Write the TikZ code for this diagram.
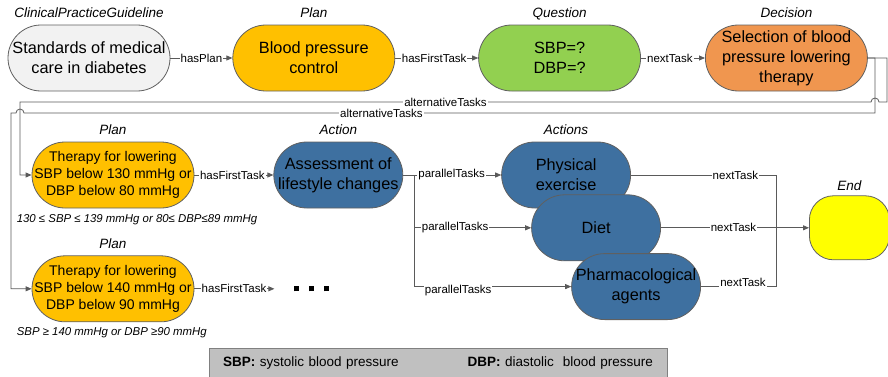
\documentclass[tikz,border=0pt]{standalone}
\usepackage{fontspec}
\setmainfont{Liberation Sans}
\usepackage{tikz}
\usetikzlibrary{positioning}
\usetikzlibrary{arrows.meta}
\definecolor{linegray}{HTML}{5A5A5A}
\definecolor{bordergray}{HTML}{606060}
\definecolor{cpgfill}{HTML}{F2F2F2}
\definecolor{planfill}{HTML}{FFC000}
\definecolor{questfill}{HTML}{92D050}
\definecolor{decfill}{HTML}{F0964F}
\definecolor{actfill}{HTML}{3E70A0}
\definecolor{endfill}{HTML}{FFFF00}
\definecolor{legendfill}{HTML}{C0C0C0}
\tikzset{
  myarrow/.style={
    draw=linegray,
    line width=0.8pt,
    -{Triangle[length=6pt,width=5pt]},
  },
  myline/.style={
    draw=linegray,
    line width=0.8pt,
  },
  mystadium/.style={
    draw=bordergray,
    shape=rectangle,
    line width=0.8pt,
    rounded corners=33pt,
    align=center,
    inner sep=0pt,
    minimum width=162pt,
    minimum height=66pt,
    font=\fontsize{16.3}{20}\selectfont
  },
  mysmallstadium/.style={
    mystadium,
    minimum width=129pt,
  },
  mytype/.style={
    inner sep=0pt,
    text height=10pt,
    text depth=0pt,
    font=\itshape\fontsize{13.5}{15}\selectfont
  },
  myedge/.style={
    fill=white,
    inner sep=1pt,
    font=\fontsize{11.5}{13}\selectfont
  },
  mynote/.style={
    inner sep=0pt,
    text height=8pt,
    text depth=2pt,
    font=\itshape\fontsize{11.4}{13}\selectfont
  },
  mylegend/.style={
    draw=gray,
    fill=legendfill,
    inner xsep=14pt,
    inner ysep=0pt,
    text width=430pt,
    minimum height=30pt,
    font=\fontsize{13.5}{15}\selectfont
  },
}

\begin{document}
\begin{tikzpicture}[x=1pt,y=1pt]
    \useasboundingbox (0,0) rectangle (888,376);

    \node[mystadium, fill=cpgfill] (standards) at (89,318) {Standards of medical\\care in diabetes};
    \node[mystadium, fill=planfill] (bpcontrol) [right=62pt of standards] {Blood pressure\\control};
    \node[mystadium, fill=questfill] (question) [right=83pt of bpcontrol] {SBP=?\\DBP=?};
    \node[mystadium, fill=decfill] (decision) [right=64pt of question] {Selection of blood\\pressure lowering\\therapy};

    \node[mytype] (cpgtype) [above=7pt of standards] {ClinicalPracticeGuideline};
    \node[mytype] (bptype) [above=7pt of bpcontrol] {Plan};
    \node[mytype] (questtype) [above=7pt of question] {Question};
    \node[mytype] (dectype) [above=7pt of decision] {Decision};

    \node[mystadium, fill=planfill, font=\fontsize{14}{17}\selectfont] (plan1) at (113,201) {Therapy for lowering\\SBP below 130 mmHg or\\DBP below 80 mmHg};
    \node[mysmallstadium, fill=actfill] (assessment) [right=79pt of plan1] {Assessment of\\lifestyle changes};
    \node[mysmallstadium, fill=actfill] (physical) [right=98pt of assessment] {Physical\\exercise};
    \node[mysmallstadium, fill=actfill] (diet) [below=-14pt of physical, xshift=30pt] {Diet};
    \node[mysmallstadium, fill=actfill] (pharm) [below=-8pt of diet, xshift=40pt] {Pharmacological\\agents};
    \node[mystadium, fill=endfill, minimum width=80pt, minimum height=64pt, rounded corners=24pt] (endtask) [right=148pt of diet] {};

    \node[mystadium, fill=planfill, font=\fontsize{14}{17}\selectfont] (plan2) [below=47pt of plan1] {Therapy for lowering\\SBP below 140 mmHg or\\DBP below 90 mmHg};
    \node[inner sep=0pt] (dots) [right=99pt of plan2] {\rule{5pt}{5pt}\hspace{10pt}\rule{5pt}{5pt}\hspace{10pt}\rule{5pt}{5pt}};

    \node[mytype] (plan1type) [above=6.5pt of plan1] {Plan};
    \node[mytype] (acttype) [above=6.5pt of assessment] {Action};
    \node[mytype] (actstype) [above=6.5pt of physical] {Actions};
    \node[mytype] (endtype) [above=4.5pt of endtask] {End};
    \node[mytype] (plan2type) [above=6.5pt of plan2] {Plan};

    \node[mynote, anchor=north west] (note1) at ([xshift=-15pt,yshift=-6pt]plan1.south west) {130 ≤ SBP ≤ 139 mmHg or 80≤ DBP≤89 mmHg};
    \node[mynote, anchor=north west] (note2) at ([xshift=-15pt,yshift=-5pt]plan2.south west) {SBP ≥ 140 mmHg or DBP ≥90 mmHg};

    \node[mylegend] (legend) at (438,13) {\textbf{SBP:} systolic blood pressure\hfill\textbf{DBP:} diastolic\ \ blood pressure};

    \coordinate (outerright) at (887,274);
    \coordinate (innerright) at (875,263);
    \coordinate (hopright) at (875,274);
    \coordinate (outerleft) at (20,274);
    \coordinate (innerleft) at (11,263);
    \coordinate (hopleft) at (20,263);
    \coordinate (split) at ([xshift=11pt]assessment.east);
    \coordinate (join) at ([xshift=115pt]diet.east);

    \draw[myarrow] (standards) -- node[myedge]{hasPlan} (bpcontrol);
    \draw[myarrow] (bpcontrol) -- node[myedge, pos=0.47]{hasFirstTask} (question);
    \draw[myarrow] (question) -- node[myedge, pos=0.45]{nextTask} (decision);

    \draw[myarrow] (decision.east) -| (outerright) -- ([xshift=4pt]hopright) arc[start angle=0, end angle=180, radius=4pt] -- node[myedge]{alternativeTasks} (outerleft) |- (plan1.west);
    \draw[myarrow] (decision.east) -| (innerright) -- node[myedge, pos=0.58]{alternativeTasks} ([xshift=4pt]hopleft) arc[start angle=0, end angle=180, radius=4pt] -- (innerleft) |- (plan2.west);

    \draw[myarrow] (plan1) -- node[myedge, pos=0.48]{hasFirstTask} (assessment);
    \draw[myarrow, shorten >=19pt] (plan2.east) -- node[myedge, pos=0.4]{hasFirstTask} (dots.west);

    \draw[myline] (assessment.east) -- (split);
    \draw[myarrow] (split) -- node[myedge, pos=0.43]{parallelTasks} (physical.west);
    \draw[myarrow] (split) |- node[myedge, pos=0.675]{parallelTasks} (diet.west);
    \draw[myarrow] (split) |- node[myedge, pos=0.64, yshift=-4pt]{parallelTasks} (pharm.west);

    \draw[myline] (physical.east) -| node[myedge, pos=0.36]{nextTask} (join);
    \draw[myline] (pharm.east) -| node[myedge, pos=0.28, yshift=4pt]{nextTask} (join);
    \draw[myarrow] (diet.east) -- node[myedge, pos=0.49]{nextTask} (endtask.west);
\end{tikzpicture}
\end{document}
